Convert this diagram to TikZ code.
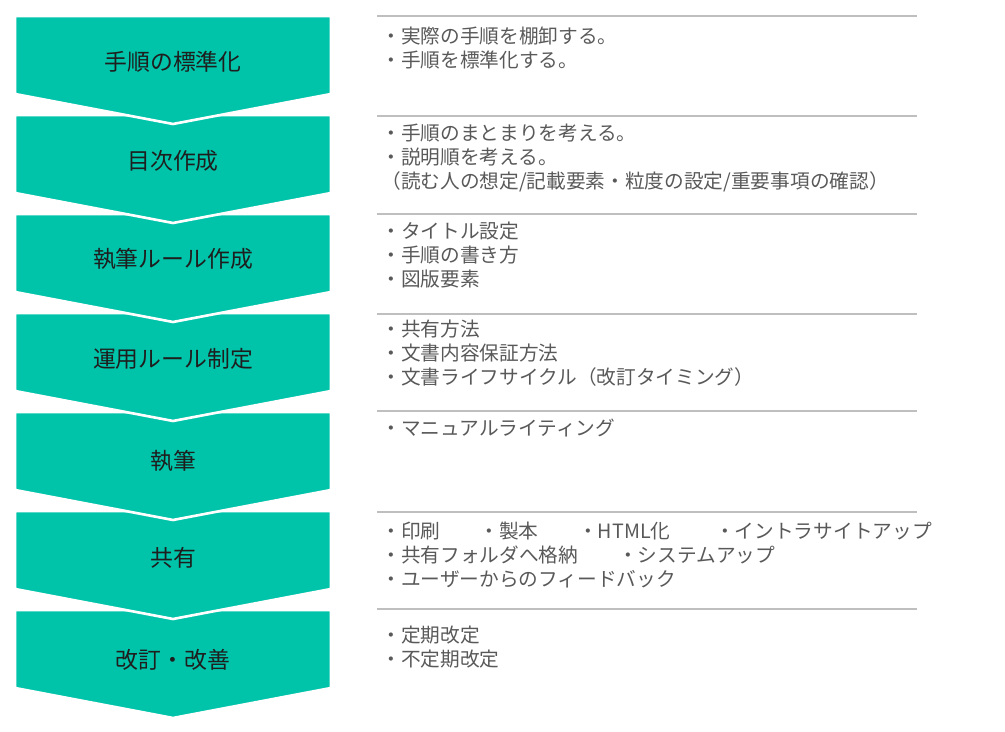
\documentclass[tikz,border=0pt]{standalone}
\usepackage{fontspec}
\setmainfont{Noto Sans CJK JP}
\definecolor{chevgreen}{RGB}{0,196,170}
\definecolor{labelgray}{RGB}{30,30,30}
\definecolor{descgray}{RGB}{89,89,89}
\definecolor{linegray}{RGB}{191,191,191}
\tikzset{
  chev/.style={fill=chevgreen, draw=white, line width=1.5pt, line join=miter},
  lbl/.style={font=\fontsize{13}{15}\selectfont, text=labelgray, inner sep=0pt},
  desc/.style={anchor=north west, align=left, font=\fontsize{11.2}{13.6}\selectfont, text=descgray, inner sep=0pt},
  sepline/.style={draw=linegray, line width=0.7pt}
}
\newcommand{\chevshape}[1]{\filldraw[chev] (15,#1) -- (331,#1) -- (331,#1+78) -- (173,#1+108) -- (15,#1+78) -- cycle;}
\newcommand{\col}[2]{\makebox[#1][l]{#2}}

\begin{document}
\begin{tikzpicture}[x=0.02cm,y=-0.02cm]
	\useasboundingbox (0,0) rectangle (1005,732);
	% chevrons, lowest first so the tips lie on top
	\chevshape{610}
	\chevshape{511}
	\chevshape{412}
	\chevshape{313}
	\chevshape{214}
	\chevshape{115}
	\chevshape{16}

	\node[lbl] (s1) at (173,62) {手順の標準化};
	\node[lbl] (s2) at (173,161) {目次作成};
	\node[lbl] (s3) at (173,259) {執筆ルール作成};
	\node[lbl] (s4) at (173,359) {運用ルール制定};
	\node[lbl] (s5) at (173,461) {執筆};
	\node[lbl] (s6) at (173,558) {共有};
	\node[lbl] (s7) at (173,660) {改訂・改善};

	% separators
	\draw[sepline] (377,16) -- (917,16);
	\draw[sepline] (377,116) -- (917,116);
	\draw[sepline] (377,214) -- (917,214);
	\draw[sepline] (377,314) -- (917,314);
	\draw[sepline] (377,411) -- (917,411);
	\draw[sepline] (377,512) -- (917,512);
	\draw[sepline] (377,609) -- (917,609);

	\node[desc] (d1) at (381,27) {・実際の手順を棚卸する。\\・手順を標準化する。};
	\node[desc] (d2) at (381,124) {・手順のまとまりを考える。\\・説明順を考える。\\（読む人の想定/記載要素・粒度の設定/重要事項の確認）};
	\node[desc] (d3) at (381,222) {・タイトル設定\\・手順の書き方\\・図版要素};
	\node[desc] (d4) at (381,320) {・共有方法\\・文書内容保証方法\\・文書ライフサイクル（改訂タイミング）};
	\node[desc] (d5) at (381,419) {・マニュアルライティング};
	\node[desc] (d6) at (381,522) {\col{1.96cm}{・印刷}\col{1.98cm}{・製本}\col{2.74cm}{・HTML化}・イントラサイトアップ\\\col{4.74cm}{・共有フォルダへ格納}・システムアップ\\・ユーザーからのフィードバック};
	\node[desc] (d7) at (381,626) {・定期改定\\・不定期改定};
\end{tikzpicture}
\end{document}
